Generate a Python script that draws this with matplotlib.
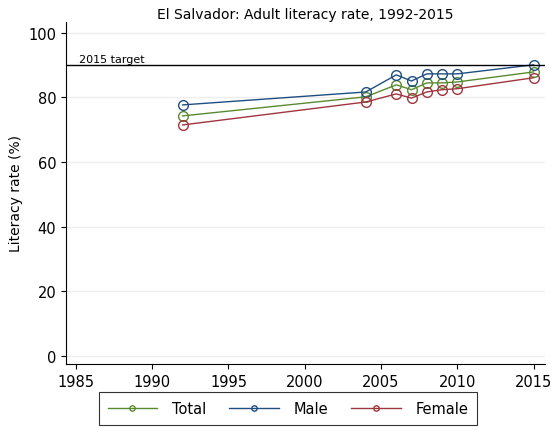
import matplotlib
matplotlib.use("Agg")
import matplotlib.pyplot as plt

years = [1992, 2004, 2006, 2007, 2008, 2009, 2010, 2015]
total = [74.3, 80.2, 83.9, 82.4, 84.5, 84.5, 84.8, 87.9]
male = [77.7, 81.7, 87.0, 85.1, 87.3, 87.3, 87.3, 90.1]
female = [71.5, 78.6, 81.1, 79.8, 81.7, 82.4, 82.7, 86.1]
target = 90

green = "#5a8a30"
navy = "#1f4e80"
maroon = "#a0353f"

fig = plt.figure(figsize=(5.57, 4.31), dpi=100)
ax = fig.add_axes([0.1185, 0.153, 0.86, 0.794])

for vals, col, name in [(total, green, "Total"), (male, navy, "Male"), (female, maroon, "Female")]:
    ax.plot(years, vals, color=col, lw=1, marker="o", ms=7, mfc="none", mec=col, mew=1, label=name)

ax.axhline(target, color="black", lw=1)
ax.text(1985.2, target + 0.3, "2015 target", fontsize=8, va="bottom")

ax.set_xlim(1984.35, 2015.75)
ax.set_ylim(-2.5, 103.4)
ax.set_xticks(range(1985, 2016, 5))
ax.set_yticks(range(0, 101, 20))
ax.yaxis.grid(True, color="#eeeeee", lw=1)
ax.set_axisbelow(True)
for s in ["top", "right"]:
    ax.spines[s].set_visible(False)
ax.tick_params(labelsize=10.5)
ax.set_ylabel("Literacy rate (%)", fontsize=10)
ax.set_title("El Salvador: Adult literacy rate, 1992-2015", fontsize=10, pad=3)

handles, labels = ax.get_legend_handles_labels()
leg = fig.legend(handles, labels, loc="lower center", bbox_to_anchor=(288 / 557, -2 / 431), ncol=3,
                 frameon=True, fancybox=False, edgecolor="black", fontsize=10.5, handlelength=3.4,
                 columnspacing=1.6, borderpad=0.6, handletextpad=1.0, markerscale=0.55)
leg.get_frame().set_linewidth(0.8)

fig.savefig("out.png", dpi=100)
